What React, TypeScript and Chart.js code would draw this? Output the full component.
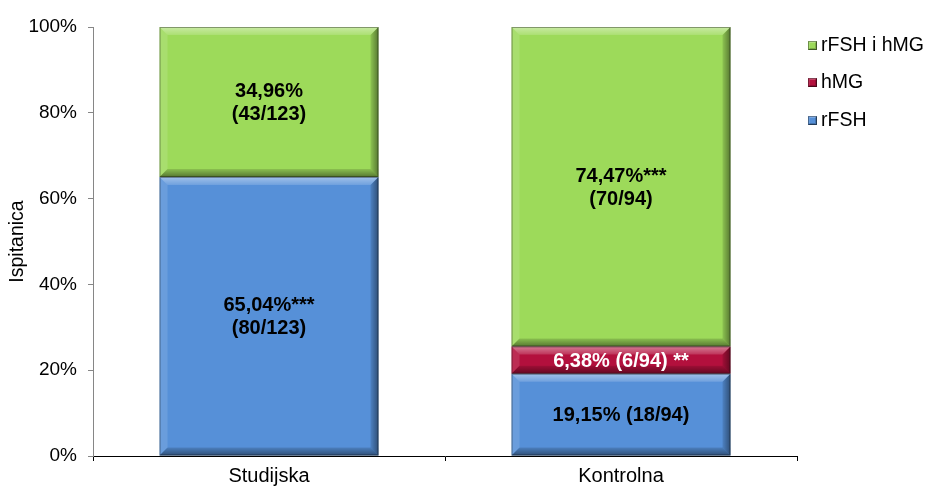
import React, { useEffect, useRef } from "react";
import { Chart, registerables } from "chart.js";

Chart.register(...registerables);

const categories = ["Studijska", "Kontrolna"];
const rfshValues = [65.04, 19.15];
const hmgValues = [0, 6.38];
const comboValues = [34.96, 74.47];
const seriesNames = ["rFSH", "hMG", "rFSH i hMG"];
const rfshLabels = [["65,04%***", "(80/123)"], ["19,15% (18/94)"]];
const hmgLabels = [[], ["6,38% (6/94) **"]];
const comboLabels = [["34,96%", "(43/123)"], ["74,47%***", "(70/94)"]];
const yTicks = [0, 20, 40, 60, 80, 100];

const BLUE = "#5690D8";
const RED = "#B3103D";
const GREEN = "#9DDA5A";
const FONT = "'Liberation Sans', Arial, sans-serif";

function bevel(ctx: CanvasRenderingContext2D, l: number, t: number, r: number, bt: number, b: number) {
  const poly = (pts: number[][], fill: string | CanvasGradient) => {
    ctx.beginPath();
    ctx.moveTo(pts[0][0], pts[0][1]);
    for (let i = 1; i < pts.length; i++) ctx.lineTo(pts[i][0], pts[i][1]);
    ctx.closePath();
    ctx.fillStyle = fill;
    ctx.fill();
  };
  const gTop = ctx.createLinearGradient(0, t, 0, t + b);
  gTop.addColorStop(0, "rgba(255,255,255,0.45)");
  gTop.addColorStop(1, "rgba(255,255,255,0.15)");
  poly([[l, t], [r, t], [r - b, t + b], [l + b, t + b]], gTop);
  poly([[l, t], [l + b, t + b], [l + b, bt - b], [l, bt]], "rgba(255,255,255,0.12)");
  const gRight = ctx.createLinearGradient(r - b, 0, r, 0);
  gRight.addColorStop(0, "rgba(0,0,0,0.1)");
  gRight.addColorStop(1, "rgba(0,0,0,0.45)");
  poly([[r, t], [r, bt], [r - b, bt - b], [r - b, t + b]], gRight);
  const gBot = ctx.createLinearGradient(0, bt - b, 0, bt);
  gBot.addColorStop(0, "rgba(0,0,0,0.12)");
  gBot.addColorStop(1, "rgba(0,0,0,0.45)");
  poly([[l, bt], [r, bt], [r - b, bt - b], [l + b, bt - b]], gBot);
  ctx.strokeStyle = "rgba(0,0,0,0.35)";
  ctx.lineWidth = 1;
  ctx.strokeRect(l + 0.5, t + 0.5, r - l - 1, bt - t - 1);
}

const barPlugin = {
  id: "bevelLabels",
  afterDatasetsDraw(chart: any) {
    const ctx = chart.ctx as CanvasRenderingContext2D;
    const allLabels = [rfshLabels, hmgLabels, comboLabels];
    chart.data.datasets.forEach((ds: any, di: number) => {
      const meta = chart.getDatasetMeta(di);
      meta.data.forEach((el: any, i: number) => {
        const p = el.getProps(["x", "y", "base", "width"], true);
        const l = p.x - p.width / 2;
        const r = p.x + p.width / 2;
        const t = Math.min(p.y, p.base);
        const bt = Math.max(p.y, p.base);
        const h = bt - t;
        if (h < 1) return;
        ctx.save();
        bevel(ctx, l, t, r, bt, Math.min(8, h / 3.2));
        ctx.restore();
        const lines = allLabels[di][i] || [];
        if (!lines.length) return;
        ctx.save();
        ctx.font = `bold 20px ${FONT}`;
        ctx.fillStyle = di === 1 ? "#FFFFFF" : "#000000";
        ctx.textAlign = "center";
        ctx.textBaseline = "middle";
        const lh = 23;
        const cy = (t + bt) / 2 + 1;
        lines.forEach((s: string, k: number) => {
          ctx.fillText(s, p.x, cy + (k - (lines.length - 1) / 2) * lh);
        });
        ctx.restore();
      });
    });
    // legend
    const order = [2, 1, 0];
    const rowsY = [45, 82, 120];
    order.forEach((di, k) => {
      const ds = chart.data.datasets[di];
      const y = rowsY[k];
      ctx.save();
      ctx.fillStyle = ds.backgroundColor;
      ctx.fillRect(808, y - 4, 9, 9);
      bevel(ctx, 808, y - 4, 817, y + 5, 2);
      ctx.font = `19.5px ${FONT}`;
      ctx.fillStyle = "#000";
      ctx.textAlign = "left";
      ctx.textBaseline = "middle";
      ctx.fillText(ds.label, 821, y + 1);
      ctx.restore();
    });
  },
};

export default function App() {
  const ref = useRef<HTMLCanvasElement | null>(null);
  useEffect(() => {
    document.body.style.margin = "0";
    const canvas = ref.current!;
    const chart = new Chart(canvas, {
      type: "bar",
      data: {
        labels: categories,
        datasets: [
          { label: seriesNames[0], data: rfshValues, backgroundColor: BLUE },
          { label: seriesNames[1], data: hmgValues, backgroundColor: RED },
          { label: seriesNames[2], data: comboValues, backgroundColor: GREEN },
        ].map((d) => ({ ...d, borderWidth: 0, categoryPercentage: 1, barPercentage: 0.622 })),
      },
      options: {
        animation: false,
        responsive: false,
        layout: { padding: { top: 27, right: 131, left: 0, bottom: 0 } },
        plugins: { legend: { display: false }, tooltip: { enabled: false } },
        scales: {
          x: {
            stacked: true,
            grid: { offset: true, drawOnChartArea: false, drawTicks: true, tickLength: 5, color: "#000" },
            border: { color: "#000", width: 1 },
            ticks: { font: { family: FONT, size: 20 }, color: "#000", padding: 3 },
            afterFit: (s: any) => { s.height = 33; },
          },
          y: {
            stacked: true,
            min: 0,
            max: 100,
            afterBuildTicks: (s: any) => { s.ticks = yTicks.map((v) => ({ value: v })); },
            grid: { drawOnChartArea: false, drawTicks: true, tickLength: 5, color: "#868686" },
            border: { color: "#868686", width: 1 },
            ticks: { font: { family: FONT, size: 19 }, color: "#000", padding: 11, callback: (v: any) => v + "%" },
            title: { display: true, text: "Ispitanica", font: { family: FONT, size: 19.5 }, color: "#000", padding: { top: 6, bottom: 0 } },
            afterFit: (s: any) => { s.width = 93; },
          },
        },
      },
      plugins: [barPlugin],
    });
    return () => chart.destroy();
  }, []);
  return (
    <div style={{ width: 928, height: 489, position: "relative" }}>
      <canvas ref={ref} width={928} height={489} />
    </div>
  );
}
